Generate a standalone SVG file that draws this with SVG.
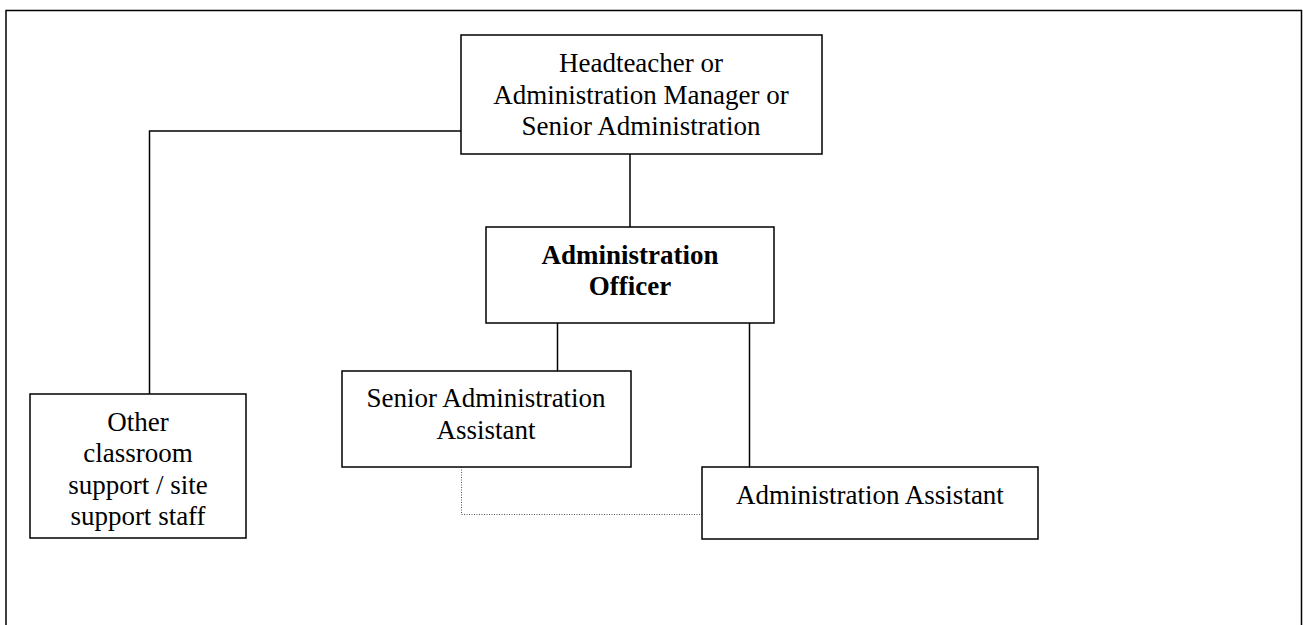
<svg xmlns="http://www.w3.org/2000/svg" width="1303" height="625" viewBox="0 0 1303 625">
  <style>
    .frame { fill: none; stroke: #000; stroke-width: 1.5; }
    .box { fill: #fff; stroke: #000; stroke-width: 1.5; }
    .link { fill: none; stroke: #000; stroke-width: 1.5; }
    .dotted { fill: none; stroke: #555; stroke-width: 1; stroke-dasharray: 1 1.5; }
    .lbl { font-family: "Liberation Serif", "Times New Roman", serif; font-size: 27px; fill: #000; text-anchor: middle; }
    .bold { font-weight: bold; }
  </style>
  <rect width="1303" height="625" fill="#fff"/>
  <!-- page frame -->
  <rect class="frame" x="6" y="10.5" width="1295.5" height="640"/>

  <g id="connectors">
    <polyline class="link" points="461,131 149.5,131 149.5,394"/>
    <line class="link" x1="630" y1="154" x2="630" y2="227"/>
    <line class="link" x1="557.5" y1="323" x2="557.5" y2="371"/>
    <line class="link" x1="749.5" y1="323" x2="749.5" y2="467"/>
    <polyline class="dotted" points="461.5,467 461.5,514.5 702,514.5"/>
  </g>

  <g id="headteacher">
    <rect class="box" x="461" y="35" width="361" height="119"/>
    <text class="lbl" x="641" y="72">Headteacher or</text>
    <text class="lbl" x="641" y="103.5">Administration Manager or</text>
    <text class="lbl" x="641" y="135">Senior Administration</text>
  </g>

  <g id="admin-officer">
    <rect class="box" x="486" y="227" width="288" height="96"/>
    <text class="lbl bold" x="630" y="263.5">Administration</text>
    <text class="lbl bold" x="630" y="295">Officer</text>
  </g>

  <g id="senior-admin-assistant">
    <rect class="box" x="342" y="371" width="289" height="96"/>
    <text class="lbl" x="486" y="407">Senior Administration</text>
    <text class="lbl" x="486" y="438.5">Assistant</text>
  </g>

  <g id="other-support-staff">
    <rect class="box" x="30" y="394" width="216" height="144"/>
    <text class="lbl" x="138" y="431">Other</text>
    <text class="lbl" x="138" y="462">classroom</text>
    <text class="lbl" x="138" y="493.5">support / site</text>
    <text class="lbl" x="138" y="525">support staff</text>
  </g>

  <g id="admin-assistant">
    <rect class="box" x="702" y="467" width="336" height="72"/>
    <text class="lbl" x="870" y="503.5">Administration Assistant</text>
  </g>
</svg>
